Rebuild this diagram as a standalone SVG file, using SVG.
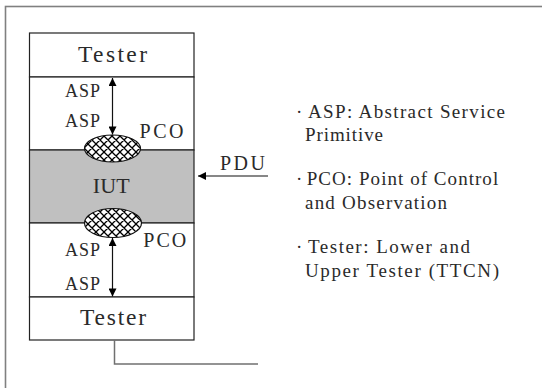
<svg xmlns="http://www.w3.org/2000/svg" width="542" height="388" viewBox="0 0 542 388">
<defs>
<style>
.t{font-family:"Liberation Serif","Times New Roman",serif;fill:#2a2a2a}
.box{fill:#fff;stroke:#222;stroke-width:1.2}
.frame{fill:none;stroke:#808080;stroke-width:1.6}
.conn{fill:none;stroke:#111;stroke-width:1.2}
.gline{fill:none;stroke:#707070;stroke-width:1.5}
.pco{fill:url(#hatch);stroke:#111;stroke-width:1.2}
</style>
<pattern id="hatch" patternUnits="userSpaceOnUse" width="8" height="8">
<rect width="8" height="8" fill="#fff"/>
<path d="M0,0 L8,8 M-2,6 L2,10 M6,-2 L10,2 M0,8 L8,0 M-2,2 L2,-2 M6,10 L10,6" stroke="#000" stroke-width="1.3"/>
</pattern>
<marker id="ah" viewBox="0 0 10 10" refX="10" refY="5" markerWidth="9" markerHeight="8" markerUnits="userSpaceOnUse" orient="auto-start-reverse">
<path d="M0,0 L10,5 L0,10 Z" fill="#000"/>
</marker>
</defs>
<rect class="frame" x="5.5" y="6.5" width="560" height="400"/>
<g id="tester-top">
<rect class="box" x="29.5" y="33" width="164.5" height="44"/>
<text class="t" x="78" y="62.3" font-size="23.5" textLength="69" lengthAdjust="spacing">Tester</text>
</g>
<g id="upper-area">
<rect class="box" x="29.5" y="77" width="164.5" height="73"/>
<text class="t" x="65" y="96.7" font-size="18" textLength="35" lengthAdjust="spacing">ASP</text>
<text class="t" x="65" y="126.7" font-size="18" textLength="35" lengthAdjust="spacing">ASP</text>
</g>
<g id="iut">
<rect x="29.5" y="150" width="164.5" height="73" fill="#c0c0c0" stroke="#222" stroke-width="1.2"/>
<text class="t" x="92.7" y="193.3" font-size="22" textLength="37" lengthAdjust="spacing">IUT</text>
</g>
<g id="lower-area">
<rect class="box" x="29.5" y="223" width="164.5" height="74"/>
<text class="t" x="65" y="256" font-size="18" textLength="35" lengthAdjust="spacing">ASP</text>
<text class="t" x="65" y="290" font-size="18" textLength="35" lengthAdjust="spacing">ASP</text>
</g>
<g id="tester-bottom">
<rect class="box" x="29.5" y="297" width="164.5" height="43"/>
<text class="t" x="80" y="325" font-size="23.5" textLength="66" lengthAdjust="spacing">Tester</text>
</g>
<g id="pco-upper">
<ellipse class="pco" cx="112.5" cy="148.5" rx="28" ry="13.5"/>
<text class="t" x="139.5" y="138.3" font-size="20" textLength="44" lengthAdjust="spacing">PCO</text>
</g>
<g id="pco-lower">
<ellipse class="pco" cx="113" cy="223" rx="28.5" ry="14.5"/>
<text class="t" x="143.3" y="247.3" font-size="20" textLength="43" lengthAdjust="spacing">PCO</text>
</g>
<g id="connectors">
<line class="conn" x1="112.5" y1="78" x2="112.5" y2="134.5" marker-start="url(#ah)" marker-end="url(#ah)"/>
<line class="conn" x1="112.5" y1="238" x2="112.5" y2="296.5" marker-start="url(#ah)" marker-end="url(#ah)"/>
<line class="conn" x1="268" y1="176" x2="198" y2="176" marker-end="url(#ah)"/>
<text class="t" x="220" y="170" font-size="20" textLength="45" lengthAdjust="spacing">PDU</text>
<polyline class="gline" points="114.5,340 114.5,364 258,364"/>
</g>
<g id="legend">
<text class="t" x="296" y="117.5" font-size="19">·</text>
<text class="t" x="308" y="117.5" font-size="19" textLength="197" lengthAdjust="spacing">ASP: Abstract Service</text>
<text class="t" x="305" y="140.5" font-size="19" textLength="78" lengthAdjust="spacing">Primitive</text>
<text class="t" x="296" y="185" font-size="19">·</text>
<text class="t" x="306.7" y="185" font-size="19" textLength="191.5" lengthAdjust="spacing">PCO: Point of Control</text>
<text class="t" x="305" y="208.5" font-size="19" textLength="142" lengthAdjust="spacing">and Observation</text>
<text class="t" x="296" y="253" font-size="19">·</text>
<text class="t" x="308" y="253" font-size="19" textLength="162" lengthAdjust="spacing">Tester: Lower and</text>
<text class="t" x="305" y="276.5" font-size="19" textLength="194" lengthAdjust="spacing">Upper Tester (TTCN)</text>
</g>
</svg>
